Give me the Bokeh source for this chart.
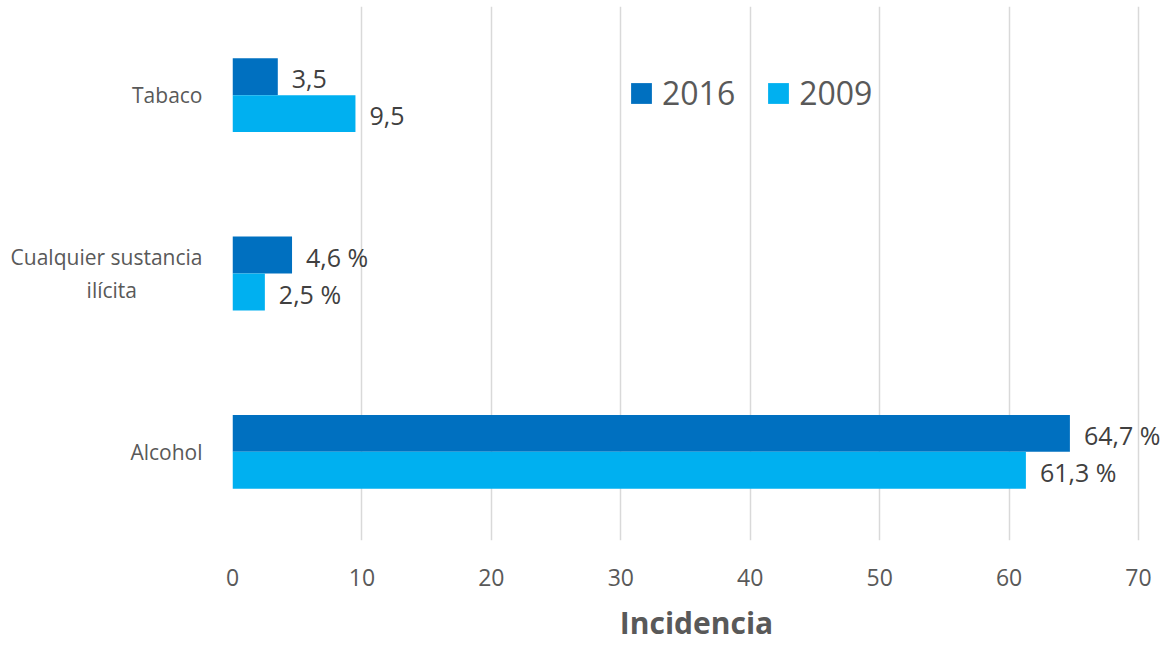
from bokeh.plotting import figure
from bokeh.models import ColumnDataSource, FixedTicker, Range1d, Legend, LegendItem
from bokeh.transform import dodge
from bokeh.core.properties import value
from bokeh.embed import file_html
from bokeh.resources import INLINE

categories = ["Alcohol", "Cualquier sustancia\nilícita" + "\u00a0" * 12, "Tabaco"]
cat_pos = [0, 1, 2]
vals_2016 = [64.7, 4.6, 3.5]
vals_2009 = [61.3, 2.5, 9.5]
labels_2016 = ["64,7 %", "4,6 %", "3,5"]
labels_2009 = ["61,3 %", "2,5 %", "9,5"]
x_ticks = [0, 10, 20, 30, 40, 50, 60, 70]

C2016 = "#0070C0"
C2009 = "#00B0F0"
FONT = "Open Sans"

src = ColumnDataSource(dict(y=cat_pos, v16=vals_2016, v09=vals_2009,
                            l16=labels_2016, l09=labels_2009))

p = figure(width=1160, height=645, output_backend="svg", toolbar_location=None,
           x_range=Range1d(0, 71.7), y_range=Range1d(-0.497, 2.497),
           min_border_left=232, min_border_right=0, min_border_top=6,
           min_border_bottom=103)
p.outline_line_color = None
p.background_fill_color = "white"
p.border_fill_color = "white"

bh = 0.207
r16 = p.hbar(y=dodge("y", bh / 2), right="v16", left=0, height=bh, source=src,
             fill_color=C2016, line_color=None)
r09 = p.hbar(y=dodge("y", -bh / 2), right="v09", left=0, height=bh, source=src,
             fill_color=C2009, line_color=None)

p.text(x="v16", y=dodge("y", bh / 2), text="l16", source=src, x_offset=14, y_offset=2,
       text_font=value(FONT), text_font_size="25px", text_color="#404040",
       text_baseline="middle", text_align="left")
p.text(x="v09", y=dodge("y", -bh / 2), text="l09", source=src, x_offset=14, y_offset=2,
       text_font=value(FONT), text_font_size="25px", text_color="#404040",
       text_baseline="middle", text_align="left")

# x axis
p.xaxis.ticker = FixedTicker(ticks=x_ticks)
p.xaxis.axis_line_color = None
p.xaxis.major_tick_line_color = None
p.xaxis.minor_tick_line_color = None
p.xaxis.major_label_text_font = FONT
p.xaxis.major_label_text_font_size = "23px"
p.xaxis.major_label_text_color = "#595959"
p.xaxis.major_label_standoff = 22
p.xaxis.axis_label = "Incidencia"
p.xaxis.axis_label_text_font = FONT
p.xaxis.axis_label_text_font_size = "30px"
p.xaxis.axis_label_text_font_style = "bold"
p.xaxis.axis_label_text_color = "#595959"
p.xaxis.axis_label_standoff = 13

# y axis
p.yaxis.ticker = FixedTicker(ticks=cat_pos)
p.yaxis.major_label_overrides = {i: c for i, c in zip(cat_pos, categories)}
p.yaxis.axis_line_color = None
p.yaxis.major_tick_line_color = None
p.yaxis.minor_tick_line_color = None
p.yaxis.major_label_text_font = FONT
p.yaxis.major_label_text_font_size = "21px"
p.yaxis.major_label_text_color = "#595959"
p.yaxis.major_label_standoff = 24

p.xgrid.grid_line_color = "#D9D9D9"
p.xgrid.grid_line_width = 1.5
p.ygrid.grid_line_color = None

legend = Legend(items=[LegendItem(label="2016", renderers=[r16]),
                       LegendItem(label="2009", renderers=[r09])],
                orientation="horizontal", location=(396, 426),
                glyph_width=26, glyph_height=26, label_standoff=8, spacing=30,
                padding=0, margin=0, border_line_color=None,
                background_fill_alpha=0,
                label_text_font=FONT, label_text_font_size="32px",
                label_text_color="#595959")
p.add_layout(legend, "center")

open("out.html", "w").write(file_html(p, INLINE))
